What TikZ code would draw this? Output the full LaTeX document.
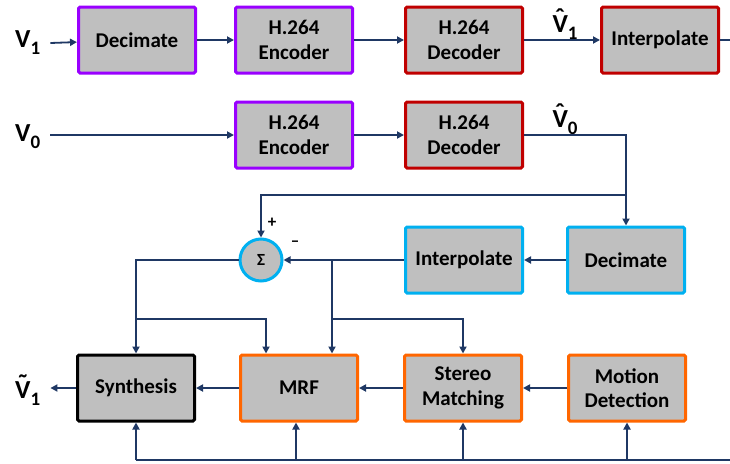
\documentclass[tikz,border=0pt]{standalone}
\usepackage{fontspec}
\setmainfont{Carlito}
\usetikzlibrary{arrows.meta}
\definecolor{wire}{RGB}{31,56,100}
\definecolor{boxgray}{RGB}{191,191,191}
\definecolor{vio}{RGB}{153,0,255}
\definecolor{redd}{RGB}{192,0,0}
\definecolor{sky}{RGB}{0,176,240}
\definecolor{orng}{RGB}{255,102,0}
\newcommand{\vlab}[2]{#1\raisebox{-7pt}{\fontsize{19}{19}\selectfont #2}}
\newcommand{\accv}[2]{\setbox0\hbox{#2}\rlap{\hbox to \wd0{\hss\raisebox{6pt}{#1}\hss}}#2}
\tikzset{
  blk/.style={draw=#1, line width=3pt, fill=boxgray, minimum width=117pt, minimum height=66pt,
    rounded corners=1.5pt, align=center, font=\fontsize{21}{24.5}\selectfont\bfseries},
  wr/.style={draw=wire, line width=1.8pt, -{Triangle[length=7pt,width=7pt]}},
  ln/.style={draw=wire, line width=1.8pt},
  lbl/.style={font=\fontsize{26}{28}\selectfont\bfseries, inner sep=2pt}
}
\begin{document}
\begin{tikzpicture}[x=1pt,y=-1pt]
\useasboundingbox (0,0) rectangle (730,463);
% top path
\node[blk=vio] (dec1) at (137,40) {Decimate};
\node[blk=vio] (enc1) at (294,40) {H.264\\Encoder};
\node[blk=redd] (dcd1) at (464,40) {H.264\\Decoder};
\node[blk=redd] (int1) at (660,40) {Interpolate};
\node[blk=vio] (enc0) at (294,135) {H.264\\Encoder};
\node[blk=redd] (dcd0) at (464,135) {H.264\\Decoder};
% residual part
\node[circle, draw=sky, line width=3pt, fill=boxgray, minimum size=42pt, inner sep=0pt,
  font=\fontsize{17}{17}\selectfont\bfseries] (sum) at (261,260) {Σ};
\node[blk=sky] (int2) at (464,260) {Interpolate};
\node[blk=sky] (dec2) at (626,260) {Decimate};
% bottom row
\node[blk=black] (syn) at (136,388) {Synthesis};
\node[blk=orng] (mrf) at (299,388) {MRF};
\node[blk=orng] (stm) at (463,388) {Stereo\\Matching};
\node[blk=orng] (mot) at (627,388) {Motion\\Detection};
% labels
\node[lbl, anchor=west] (v1) at (13,43) {\vlab{V}{1}};
\node[lbl, anchor=west] (v0) at (13,137) {\vlab{V}{0}};
\node[lbl, anchor=west] (vt) at (13,390) {\vlab{\accv{\char"02DC}{V}}{1}};
\node[lbl] (vh1) at (565,24) {\vlab{\accv{\char"02C6}{V}}{1}};
\node[lbl] (vh0) at (565,119) {\vlab{\accv{\char"02C6}{V}}{0}};
\node[font=\fontsize{17}{17}\selectfont\bfseries] (pl) at (272,223) {+};
\node[font=\fontsize{17}{17}\selectfont\bfseries] (mn) at (295,244) {–};
% coordinates
\coordinate (tap) at (626,195);
\coordinate (b1) at (332,260);
\coordinate (b2) at (332,319);
\coordinate (b3) at (136,319);
\coordinate (outT) at (730,40);
\coordinate (bus) at (730,460);
% wires
\draw[wr] ([xshift=8pt]v1.east) -- (dec1);
\draw[wr] (dec1) -- (enc1);
\draw[wr] (enc1) -- (dcd1);
\draw[wr] (dcd1) -- (int1);
\draw[ln] (int1) -- (outT);
\draw[wr] ([xshift=8pt]v0.east |- enc0) -- (enc0);
\draw[wr] (enc0) -- (dcd0);
\draw[wr] (dcd0.east) -| (dec2.north);
\draw[wr] (tap) -| (sum.north);
\draw[wr] (dec2) -- (int2);
\draw[wr] (int2) -- (sum);
\draw[wr] (b1) -- (b1 |- mrf.north);
\draw[wr] (b2) -| (stm.north);
\draw[wr] (sum.west) -| (syn.north);
\draw[wr] (b3) -| ([xshift=-33pt]mrf.north);
\draw[wr] (mot) -- (stm);
\draw[wr] (stm) -- (mrf);
\draw[wr] (mrf) -- (syn);
\draw[wr] (syn.west) -- ([xshift=8pt]vt.east |- syn);
\draw[ln] (bus) -- (bus -| syn);
\foreach \n in {syn,stm,mot}{
  \draw[wr] (\n |- bus) -- (\n.south);}
\draw[wr] ([xshift=-3pt]mrf.south |- bus) -- ([xshift=-3pt]mrf.south);
\end{tikzpicture}
\end{document}
